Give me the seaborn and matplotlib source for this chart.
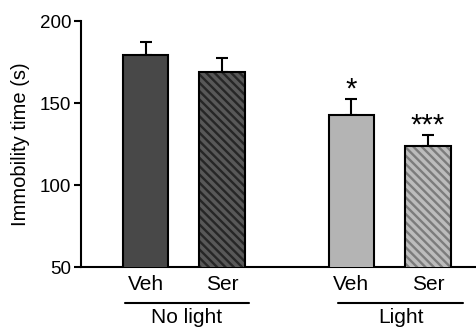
import matplotlib.pyplot as plt
import matplotlib.transforms as mtransforms
from matplotlib.patches import Rectangle
import pandas as pd
import seaborn as sns

# values (mean + SEM, seconds)
conditions = ["No light Veh", "No light Ser", "Light Veh", "Light Ser"]
treatments = ["Veh", "Ser", "Veh", "Ser"]
means = [179, 169, 142.7, 124]
sems = [8.5, 8.7, 10.0, 6.7]
stars = ["", "", "*", "***"]
groups = ["No light", "Light"]

# layout / style
positions = [0, 1, 2.69, 3.69]
fill_colors = ["#484848", "#585858", "#b4b4b4", "#bcbcbc"]
stripe_colors = [None, "#262626", None, "#7c7c7c"]
group_spans = [(-0.27, 1.35), (2.52, 4.15)]

sns.set_style("ticks", {"axes.edgecolor": "black", "text.color": "black",
                        "axes.labelcolor": "black", "xtick.color": "black",
                        "ytick.color": "black"})
plt.rcParams["font.family"] = ["Liberation Sans", "DejaVu Sans"]
plt.rcParams["hatch.linewidth"] = 1.7

df = pd.DataFrame({"pos": positions, "cond": conditions, "mean": means})

fig = plt.figure(figsize=(4.77, 3.29), dpi=100)
ax = fig.add_axes([0.1698, 0.1884, 0.8302, 0.7476])

sns.barplot(data=df, x="pos", y="mean", hue="cond", hue_order=conditions,
            palette=fill_colors, native_scale=True, width=0.59, dodge=False,
            legend=False, edgecolor="black", linewidth=1.5, ax=ax, zorder=3)

bars = [p for p in ax.patches if isinstance(p, Rectangle)]
for p, sc in zip(bars, stripe_colors):
    if sc is None:
        continue
    p.set_hatch("\\\\\\\\")
    p.set_edgecolor(sc)
    p.set_linewidth(0)
    ax.add_patch(Rectangle(p.get_xy(), p.get_width(), p.get_height(),
                           fill=False, edgecolor="black", linewidth=1.5, zorder=4))

ax.errorbar(positions, means, yerr=[[0] * len(sems), sems], fmt="none",
            ecolor="black", elinewidth=1.5, capsize=4.5, capthick=1.5, zorder=2)

for x, m, s, st in zip(positions, means, sems, stars):
    if st:
        ax.text(x, m + s - 3, st, ha="center", va="bottom", fontsize=21)

ax.set_xlim(-0.843, 4.33)
ax.set_ylim(50, 200)
ax.set_yticks([50, 100, 150, 200])
ax.set_xticks(positions)
ax.set_xticklabels(treatments, fontsize=15)
ax.tick_params(axis="x", length=0, pad=6)
ax.tick_params(axis="y", length=5, width=1.5, labelsize=13.5, pad=2)
ax.set_xlabel("")
ax.set_ylabel("Immobility time (s)", fontsize=14.5, labelpad=7)
for s in ["left", "bottom"]:
    ax.spines[s].set_linewidth(1.5)
sns.despine(ax=ax)

trans = mtransforms.blended_transform_factory(ax.transData, ax.transAxes)
for name, (x0, x1) in zip(groups, group_spans):
    ax.plot([x0, x1], [-0.145, -0.145], color="black", lw=1.5,
            transform=trans, clip_on=False)
    ax.text((x0 + x1) / 2, -0.165, name, ha="center", va="top",
            fontsize=15, transform=trans)

fig.savefig("out.png", dpi=100)
